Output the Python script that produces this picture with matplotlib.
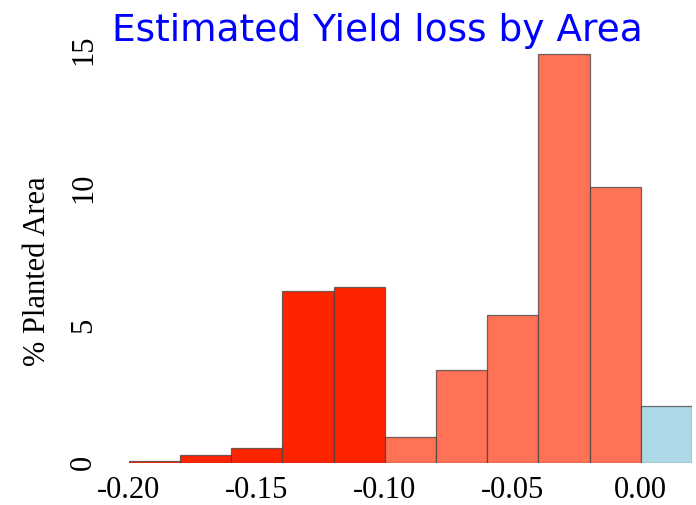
import matplotlib
matplotlib.use("Agg")
import matplotlib.pyplot as plt
import numpy as np

# Yield-loss bins (left edges) and share of planted area in each bin
bin_left = [-0.20, -0.18, -0.16, -0.14, -0.12, -0.10, -0.08, -0.06, -0.04, -0.02, 0.00]
pct_area = [0.07, 0.27, 0.52, 6.25, 6.4, 0.91, 3.38, 5.35, 14.87, 10.03, 2.07]
bin_width = 0.02

x_ticks = [-0.20, -0.15, -0.10, -0.05, 0.00]
x_tick_labels = ["-0.20", "-0.15", "-0.10", "-0.05", "0.00"]
y_ticks = [0, 5, 10, 15]
y_tick_labels = ["0", "5", "10", "15"]

severe_color = "#FF2400"
moderate_color = "#FF7256"
gain_color = "#ADD8E6"

def bar_color(left):
    if left >= -1e-9:
        return gain_color
    if left < -0.10 - 1e-9:
        return severe_color
    return moderate_color

colors = [bar_color(b) for b in bin_left]

W, H = 696, 505
fig = plt.figure(figsize=(W / 100, H / 100), dpi=100)
left_px, right_px = 128.7, 692.0
base_px, top_px = 462.5, 50.0
ax = fig.add_axes([left_px / W, (H - base_px) / H,
                   (right_px - left_px) / W, (base_px - top_px) / H])

ax.bar(bin_left, pct_area, width=bin_width, align="edge", color=colors,
       edgecolor=(0.25, 0.25, 0.25, 0.75), linewidth=0.9)

ax.set_xlim(-0.20, 0.02)
ax.set_ylim(0, 15)
for s in ax.spines.values():
    s.set_visible(False)

serif = ["Liberation Serif", "DejaVu Serif"]
ax.set_xticks(x_ticks)
ax.set_xticklabels(x_tick_labels, family=serif, fontsize=22)
ax.set_yticks(y_ticks)
ax.set_yticklabels(y_tick_labels, family=serif, fontsize=22, rotation=90, va="center")
ax.tick_params(axis="x", length=0, pad=10)
ax.tick_params(axis="y", length=0, pad=22)
ax.set_ylabel("% Planted Area", family=serif, fontsize=22, labelpad=12)
ax.yaxis.label.set_y(0.465)

fig.text(377 / W, 1 - 31 / H, "Estimated Yield loss by Area", color="#0000FF",
         fontsize=27, family="DejaVu Sans", ha="center", va="center")

fig.savefig("out.png", dpi=100)
